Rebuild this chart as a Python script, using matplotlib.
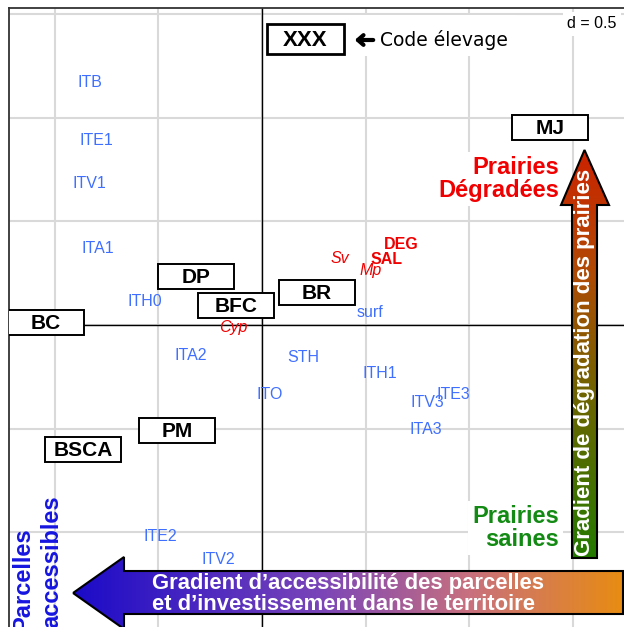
import numpy as np
import matplotlib.pyplot as plt
from matplotlib.patches import Rectangle, Polygon
from matplotlib.colors import LinearSegmentedColormap

plt.rcParams['font.family'] = ['Liberation Sans', 'DejaVu Sans']

# élevages (étiquettes encadrées)
elev = ["MJ", "DP", "BFC", "BR", "BC", "PM", "BSCA"]
elev_x = [1.389, -0.318, -0.123, 0.263, -1.041, -0.410, -0.863]
elev_y = [0.950, 0.236, 0.094, 0.157, 0.012, -0.509, -0.600]

# pratiques (bleu)
prat = ["ITB", "ITE1", "ITV1", "ITA1", "ITH0", "ITA2", "ITO", "STH", "ITH1",
        "ITV3", "ITE3", "ITA3", "ITE2", "ITV2", "surf"]
prat_x = [-0.832, -0.798, -0.834, -0.793, -0.564, -0.342, 0.039, 0.198, 0.569,
          0.798, 0.923, 0.788, -0.489, -0.210, 0.521]
prat_y = [1.167, 0.890, 0.680, 0.371, 0.111, -0.147, -0.333, -0.159, -0.234,
          -0.376, -0.333, -0.504, -1.022, -1.133, 0.060]

# indicateurs de dégradation (rouge)
deg_gras = ["DEG", "SAL"]
deg_gras_x = [0.673, 0.598]
deg_gras_y = [0.386, 0.318]
deg_ital = ["Sv", "Mp", "Cyp"]
deg_ital_x = [0.374, 0.526, -0.137]
deg_ital_y = [0.321, 0.265, -0.014]

BLEU = "#3f6fff"
ROUGE = "#f00000"
VERT = "#138a13"

# géométrie : 207.4 px par unité, origine au pixel (262, 325)
S = 207.4
OX, OY = 262, 325


def P(px, py):
    return ((px - OX) / S, (OY - py) / S)


fig = plt.figure(figsize=(6.24, 6.27), dpi=100)
W, H = 624, 627
ax = fig.add_axes([9 / W, -10 / H, (630 - 9) / W, (637 - 8) / H])

ax.set_xticks(np.arange(-1.0, 1.6, 0.5))
ax.set_yticks(np.arange(-1.5, 1.6, 0.5))
ax.grid(True, color="#d9d9d9", lw=1.5)
ax.set_axisbelow(True)
ax.tick_params(length=0, labelbottom=False, labelleft=False)
for s in ax.spines.values():
    s.set_color("#333333")
    s.set_linewidth(1.3)
ax.axhline(0, color="black", lw=1, zorder=2)
ax.axvline(0, color="black", lw=1, zorder=2)

bw, bh = 76 / S, 25 / S
for nom, x, y in zip(elev, elev_x, elev_y):
    ax.add_patch(Rectangle((x - bw / 2, y - bh / 2), bw, bh, fc="white",
                           ec="black", lw=1.4, zorder=3))
    ax.text(x, y - 1 / S, nom, ha="center", va="center", fontsize=15,
            fontweight="bold", zorder=4)

for nom, x, y in zip(prat, prat_x, prat_y):
    ax.text(x, y, nom, ha="center", va="center", fontsize=11.5, color=BLEU,
            zorder=4)
for nom, x, y in zip(deg_gras, deg_gras_x, deg_gras_y):
    ax.text(x, y, nom, ha="center", va="center", fontsize=11.5, color=ROUGE,
            fontweight="bold", zorder=4)
for nom, x, y in zip(deg_ital, deg_ital_x, deg_ital_y):
    ax.text(x, y, nom, ha="center", va="center", fontsize=11.5, color=ROUGE,
            style="italic", zorder=4)

# légende code élevage
x0, y0 = P(263, 56)
x1, y1 = P(515, 15)
ax.add_patch(Rectangle((x0, y0), x1 - x0, y1 - y0, fc="white", ec="none",
                       zorder=1))
cx, cy = P(305.5, 39)
ax.add_patch(Rectangle((cx - 77 / S / 2, cy - 30 / S / 2), 77 / S, 30 / S,
                       fc="white", ec="black", lw=2, zorder=3))
ax.text(cx, cy - 1.5 / S, "XXX", ha="center", va="center", fontsize=16,
        fontweight="bold", zorder=4)
ax.annotate("", xy=P(352, 40), xytext=P(376, 40),
            arrowprops=dict(arrowstyle="->,head_length=0.4,head_width=0.35",
                            lw=3, color="black"), zorder=4)
ax.text(*P(380, 40), "Code élevage", ha="left", va="center", fontsize=13.5,
        family="DejaVu Sans", zorder=4)

ax.text(*P(592, 24), "d = 0.5", ha="center", va="center", fontsize=11.5,
        bbox=dict(fc="white", ec="none", pad=3), zorder=4)

ax.text(*P(559, 179), "Prairies\nDégradées", ha="right", va="center",
        fontsize=17, fontweight="bold", color=ROUGE, linespacing=1.0,
        bbox=dict(fc="white", ec="none", pad=3), zorder=4)
ax.text(*P(559, 528), "Prairies\nsaines", ha="right", va="center",
        fontsize=17, fontweight="bold", color=VERT, linespacing=1.0,
        bbox=dict(fc="white", ec="none", pad=3), zorder=4)

# flèche verticale : gradient de dégradation
vpts = [P(572, 558), P(597, 558), P(597, 205), P(609, 205), P(584.5, 150),
        P(561, 205), P(572, 205)]
vpoly = Polygon(vpts, closed=True, fc="none", ec="black", lw=1.5, zorder=6)
ax.add_patch(vpoly)
cm_v = LinearSegmentedColormap.from_list(
    "v", [(0, "#237a00"), (0.4, "#6e6400"), (0.7, "#b04a05"), (1, "#cc2200")])
ex0, ey0 = P(560, 559)
ex1, ey1 = P(610, 149)
im = ax.imshow(np.linspace(0, 1, 256).reshape(-1, 1), cmap=cm_v,
               extent=[ex0, ex1, ey0, ey1], origin="lower", aspect="auto",
               zorder=5)
im.set_clip_path(vpoly)
ax.text(*P(584.5, 362), "Gradient de dégradation des prairies", rotation=90,
        ha="center", va="center", fontsize=16, fontweight="bold",
        color="white", zorder=7)

# flèche horizontale : gradient d'accessibilité
hpts = [P(73, 593), P(124, 557), P(124, 571), P(623, 571), P(623, 614),
        P(124, 614), P(124, 629)]
hpoly = Polygon(hpts, closed=True, fc="none", ec="black", lw=1.5, zorder=6)
ax.add_patch(hpoly)
cm_h = LinearSegmentedColormap.from_list(
    "h", [(0, "#1a0ac8"), (0.45, "#7a45b8"), (0.72, "#c8707e"),
          (1, "#e88c12")])
ex0, ey0 = P(72, 630)
ex1, ey1 = P(624, 556)
im = ax.imshow(np.linspace(0, 1, 256).reshape(1, -1), cmap=cm_h,
               extent=[ex0, ex1, ey0, ey1], origin="lower", aspect="auto",
               zorder=5)
im.set_clip_path(hpoly)
ax.text(*P(152, 583), "Gradient d’accessibilité des parcelles", ha="left",
        va="center", fontsize=15.8, fontweight="bold", color="white",
        zorder=7)
ax.text(*P(152, 604), "et d’investissement dans le territoire", ha="left",
        va="center", fontsize=15.8, fontweight="bold", color="white",
        zorder=7)

ax.text(*P(23, 527), "Parcelles", rotation=90, rotation_mode="anchor",
        ha="right", va="center", fontsize=17, fontweight="bold",
        color="#1515e0", zorder=7)
ax.text(*P(52, 495), "accessibles", rotation=90, rotation_mode="anchor",
        ha="right", va="center", fontsize=17, fontweight="bold",
        color="#1515e0", zorder=7)

ax.set_xlim((9 - OX) / S, (630 - OX) / S)
ax.set_ylim((OY - 637) / S, (OY - 8) / S)

fig.savefig("out.png", dpi=100)
